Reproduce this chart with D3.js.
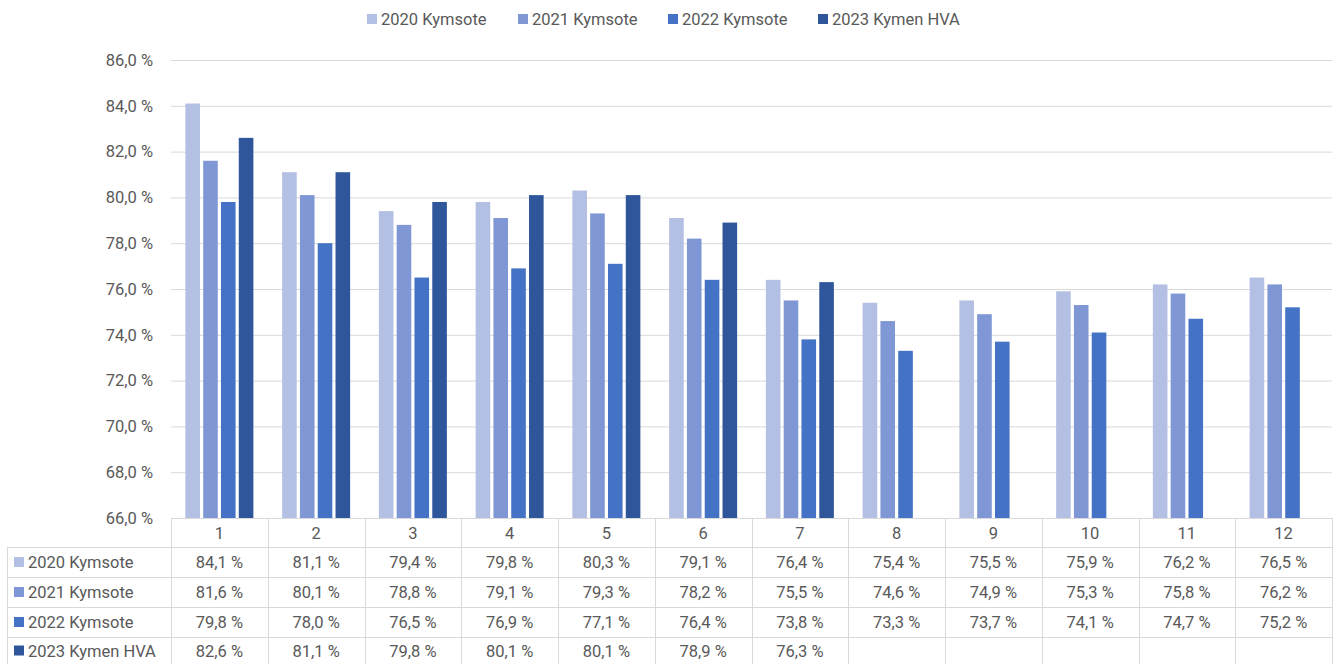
<!DOCTYPE html>
<html>
<head>
<meta charset="utf-8">
<script src="https://cdn.jsdelivr.net/npm/d3@7"></script>
<style>
  body { margin: 0; background: #fff; }
  text { font-family: Roboto, "Noto Sans", sans-serif; fill: #595959; }
</style>
</head>
<body>
<div class="chart"></div>
<script>
// data
const categories = ["1","2","3","4","5","6","7","8","9","10","11","12"];
const seriesNames = ["2020 Kymsote","2021 Kymsote","2022 Kymsote","2023 Kymen HVA"];
const v2020 = [84.1,81.1,79.4,79.8,80.3,79.1,76.4,75.4,75.5,75.9,76.2,76.5];
const v2021 = [81.6,80.1,78.8,79.1,79.3,78.2,75.5,74.6,74.9,75.3,75.8,76.2];
const v2022 = [79.8,78.0,76.5,76.9,77.1,76.4,73.8,73.3,73.7,74.1,74.7,75.2];
const v2023 = [82.6,81.1,79.8,80.1,80.1,78.9,76.3,null,null,null,null,null];
const yTicks = [66,68,70,72,74,76,78,80,82,84,86];
const colors = ["#b4c0e3","#7f97d4","#4472c4","#2f559a"];

const allSeries = [v2020, v2021, v2022, v2023];
const fmt = v => v == null ? "" : v.toFixed(1).replace(".", ",") + " %";
const FS = "16.5px";

const W = 1338, H = 664;
const plot = {left: 171, right: 1332, top: 60, bottom: 518};

const svg = d3.select(".chart").append("svg")
    .attr("width", W).attr("height", H);

// scales
const x = d3.scaleBand().domain(categories).range([plot.left, plot.right]);
const xs = d3.scaleBand().domain(seriesNames).range([0, 68]).paddingInner(0.18);
const y = d3.scaleLinear().domain([66, 86]).range([plot.bottom, plot.top]);

// gridlines
svg.append("g").selectAll("line").data(yTicks.slice(1)).enter().append("line")
    .attr("x1", plot.left).attr("x2", plot.right)
    .attr("y1", d => y(d) + 0.5).attr("y2", d => y(d) + 0.5)
    .style("stroke", "#d9d9d9").style("stroke-width", 1);

// y axis
const yAxis = d3.axisLeft(y).tickValues(yTicks).tickSize(0).tickPadding(18)
    .tickFormat(d => d.toFixed(1).replace(".", ",") + " %");
const yg = svg.append("g").attr("transform", `translate(${plot.left},0)`).call(yAxis);
yg.select(".domain").remove();
yg.selectAll("text").style("font-size", FS).style("font-family", "Roboto").style("fill", "#595959");

// bars
const groups = svg.selectAll(".grp").data(categories).enter().append("g")
    .attr("class", "grp")
    .attr("transform", d => `translate(${x(d) + x.bandwidth() / 2 - 34},0)`);
groups.selectAll("rect")
    .data((c, i) => allSeries.map((s, k) => ({name: seriesNames[k], v: s[i], k})).filter(d => d.v != null))
    .enter().append("rect")
    .attr("x", d => xs(d.name))
    .attr("width", xs.bandwidth())
    .attr("y", d => y(d.v))
    .attr("height", d => y(66) - y(d.v))
    .style("fill", d => colors[d.k]);

// data table
const rowTop = [518, 547, 577, 607, 637];
const rowBot = [547, 577, 607, 637, 664];
const tableLeft = 7;
const tbl = svg.append("g");
const lineStyle = sel => sel.style("stroke", "#d9d9d9").style("stroke-width", 1).style("shape-rendering", "crispEdges");

// horizontal lines
tbl.append("line").attr("x1", plot.left).attr("x2", plot.right).attr("y1", 518.5).attr("y2", 518.5).call(lineStyle);
[547, 577, 607, 637].forEach(yy => {
  tbl.append("line").attr("x1", tableLeft).attr("x2", plot.right).attr("y1", yy + 0.5).attr("y2", yy + 0.5).call(lineStyle);
});
// vertical lines
const vxs = categories.map(c => x(c)).concat([plot.right]);
vxs.forEach(vx => {
  tbl.append("line").attr("x1", Math.round(vx) + 0.5).attr("x2", Math.round(vx) + 0.5)
     .attr("y1", 518).attr("y2", H).call(lineStyle);
});
tbl.append("line").attr("x1", tableLeft + 0.5).attr("x2", tableLeft + 0.5).attr("y1", 547).attr("y2", H).call(lineStyle);

// header (category) labels
tbl.selectAll(".hdr").data(categories).enter().append("text")
    .attr("x", d => x(d) + x.bandwidth() / 2)
    .attr("y", (rowTop[0] + rowBot[0]) / 2 + 6)
    .attr("text-anchor", "middle")
    .style("font-size", FS)
    .text(d => d);

// rows
seriesNames.forEach((name, k) => {
  const cy = (rowTop[k + 1] + rowBot[k + 1]) / 2;
  tbl.append("rect").attr("x", 14).attr("y", cy - 5).attr("width", 10).attr("height", 10).style("fill", colors[k]);
  tbl.append("text").attr("x", 28).attr("y", cy + 6).style("font-size", FS).text(name);
  tbl.selectAll(".v" + k).data(categories).enter().append("text")
      .attr("x", d => x(d) + x.bandwidth() / 2)
      .attr("y", cy + 6)
      .attr("text-anchor", "middle")
      .style("font-size", FS)
      .text((d, i) => fmt(allSeries[k][i]));
});

// legend
const legendX = [367, 518, 668, 818];
const lg = svg.append("g");
seriesNames.forEach((name, k) => {
  lg.append("rect").attr("x", legendX[k]).attr("y", 14).attr("width", 10).attr("height", 10).style("fill", colors[k]);
  lg.append("text").attr("x", legendX[k] + 14).attr("y", 25).style("font-size", FS).text(name);
});
</script>
</body>
</html>
